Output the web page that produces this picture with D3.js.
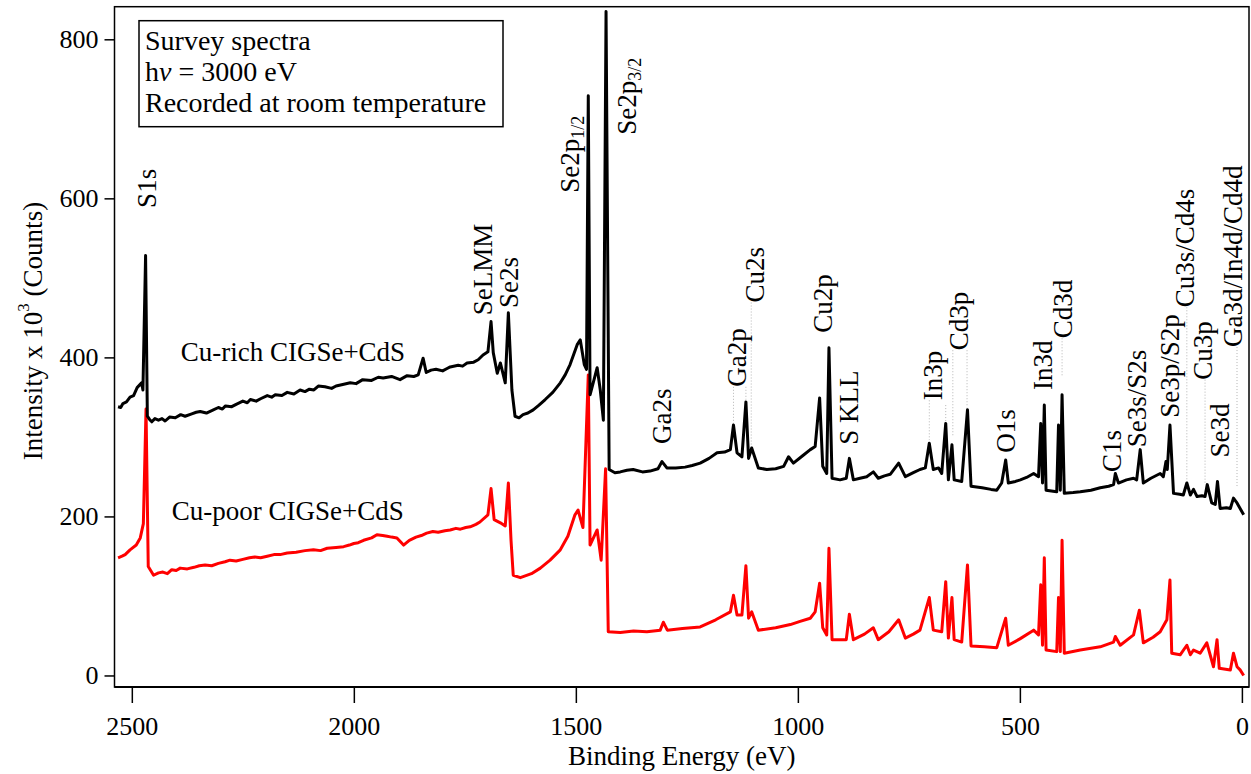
<!DOCTYPE html>
<html>
<head>
<meta charset="utf-8">
<script src="https://cdnjs.cloudflare.com/ajax/libs/d3/7.8.5/d3.min.js"></script>
<style>
body { margin: 0; background: #fff; }
</style>
</head>
<body>
<div id="chart"></div>
<script>

// binding energy (eV), intensity (x1000 counts)
let cuRichSpectrum = [
  [2531,338],[2525,337],[2520,342],[2512,344],[2504,350],[2496,352],[2488,362],[2478,368],[2475,359],[2469,528],[2465,326],[2460,322],[2455,319],
  [2448,323],[2440,321],[2432,323],[2425,320],[2415,325],[2402,324],[2390,328],[2380,326],[2365,329],[2355,331],[2346,332],[2332,330],[2320,333],[2305,337],[2296,335],[2289,339],[2275,338],[2265,341],
  [2250,345],[2240,343],[2233,347],[2220,345],[2210,348],[2195,352],[2185,350],[2177,353],[2162,352],[2150,356],[2135,354],[2121,359],[2110,357],[2100,360],[2090,359],[2080,364],[2065,363],
  [2050,361],[2040,364],[2025,366],[2008,368],[1995,367],[1980,372],[1960,371],[1945,375],[1934,374],[1915,376],[1896,372],[1880,377],[1865,376],[1855,378],[1844,399],
  [1837,381],[1826,384],[1815,385],[1800,383],[1790,386],[1783,388],[1765,390],[1755,389],[1745,393],[1730,394],[1720,397],
  [1709,403],[1698,407],[1691,445],[1686,406],[1677,380],[1670,393],[1659,368],[1652,456],
  [1644,359],[1637,326],[1628,324],[1619,328],[1608,330],[1596,334],[1583,340],[1569,347],[1552,356],[1535,368],[1524,378],[1513,391],[1497,416],
  [1490,422],[1481,391],[1476,385],[1472,729],[1468,353],[1459,372],[1452,387],[1445,359],
  [1438,321],[1432,835],[1425,259],[1412,255],[1400,256],[1385,258],[1371,259],[1350,256],[1333,257],[1315,260],[1306,269],[1295,261],
  [1275,261],[1254,262],[1238,264],[1220,267],[1200,273],[1182,280],[1165,281],[1152,284],[1145,315],[1137,280],[1126,275],[1117,344],
  [1111,273],[1104,286],[1089,261],[1070,259],[1050,260],[1032,263],[1021,275],[1010,267],[990,276],[972,284],
  [961,288],[951,349],[944,263],[935,254],[930,412],[923,248],[905,246],[891,248],
  [884,273],[875,246],[860,248],[845,250],[830,256],[819,248],[805,251],[792,253],[773,267],[758,250],
  [740,255],[725,259],[713,261],[704,292],[695,259],[683,261],[676,254],[667,317],[661,246],
  [653,290],[648,246],[631,244],[618,334],[610,238],[585,236],[565,234],[552,233],[541,242],[532,271],
  [526,242],[510,244],[499,246],[485,249],[469,254],[458,250],[453,317],[449,242],[445,340],[441,233],
  [417,231],[413,315],[409,233],[405,353],[400,229],[380,230],[364,231],[340,233],[319,236],[300,238],[289,240],
  [285,254],[278,242],[260,246],[244,248],[237,246],[229,284],[222,242],[205,248],[184,254],[177,250],
  [171,269],[168,259],[162,315],[154,229],[140,228],[132,227],[124,242],[116,227],[109,234],
  [101,225],[90,226],[83,225],[78,240],[68,217],[60,215],[55,244],[49,210],[35,211],[26,210],
  [19,223],[11,217],[4,210],[-4,202]
]

let cuPoorSpectrum = [
  [2531,148],[2522,150],[2515,152],[2504,158],[2490,164],[2481,173],[2474,191],[2468,335],[2463,137],[2451,126],[2440,129],[2430,130],[2420,128],[2410,133],[2400,132],[2391,135],
  [2375,134],[2360,136],[2348,138],[2335,139],[2320,138],[2305,141],[2290,143],[2279,145],[2265,144],[2250,146],[2235,148],[2223,149],[2210,148],[2195,150],[2180,152],[2166,152],[2150,154],[2130,155],[2110,157],[2091,158],[2075,157],[2060,160],[2040,161],[2023,162],[2010,164],[2000,166],[1990,167],[1978,170],[1960,173],[1948,177],
  [1935,176],[1925,175],[1915,174],[1903,173],[1888,164],[1875,170],[1860,174],[1848,176],[1836,179],[1822,181],[1810,180],[1795,182],[1783,183],[1770,185],[1760,184],[1748,186],[1738,187],[1725,190],[1716,193],[1698,202],[1691,235],
  [1684,196],[1670,192],[1659,188],[1652,242],[1646,170],[1641,126],[1625,123],[1600,128],[1580,135],[1558,145],[1535,158],[1518,175],
  [1502,202],[1495,208],[1484,186],[1472,378],[1468,164],[1452,183],[1443,145],[1433,260],
  [1427,55],[1400,54],[1370,56],[1340,55],[1310,57],[1303,67],[1294,57],[1260,59],[1220,61],[1185,70],[1152,80],[1145,101],
  [1137,76],[1126,76],[1117,138],[1111,72],[1104,80],[1089,57],[1050,60],[1017,64],[995,68],[972,72],
  [961,80],[951,116],[944,60],[935,51],[930,160],[923,45],[891,45],[884,77],
  [875,45],[850,52],[830,60],[819,45],[795,55],[773,70],[758,47],[740,52],[725,57],[704,98],[695,57],
  [676,55],[667,118],[661,47],[653,98],[648,45],[631,42],[618,139],[610,37],
  [580,36],[552,35],[532,72],[526,38],[500,46],[469,57],[458,51],[453,114],[449,38],[445,148],
  [441,32],[417,30],[413,98],[409,30],[405,170],[400,28],[364,32],[319,36],
  [289,42],[285,49],[274,38],[244,51],[231,82],[222,41],[200,48],[184,55],[169,70],
  [162,120],[158,28],[139,26],[124,38],[116,26],[109,32],[94,28],[79,41],
  [64,11],[56,45],[51,9],[26,7],[19,28],[11,11],[4,7],[-4,0]
]

// peak labels: name (part after _ is subscript), energy, level where the label starts
let peakNames = ["S1s","SeLMM","Se2s","Se2p_1/2","Se2p_3/2","Ga2s","Ga2p","Cu2s","Cu2p","S KLL",
  "In3p","Cd3p","O1s","In3d","Cd3d","C1s","Se3s/S2s","Se3p/S2p","Cu3s/Cd4s","Cu3p","Se3d","Ga3d/In4d/Cd4d"]
let peakEnergy = [2466,1709,1650,1513,1385,1306,1137,1096,944,884,695,637,531,447,403,293,236,161,128,88,49,20]
let peakLevel = [588,453,462,607,680,291,363,469,431,290,346,409,280,359,424,256,287,324,463,372,274,413]

// dotted guide lines from labels to peaks: energy, top, bottom
let guideEnergy = [1145,1117,1105,704,667,651,619,405,124,83,11]
let guideTop = [363,363,469,346,340,409,409,424,463,372,413]
let guideBottom = [317,347,287,296,317,300,337,376,246,242,237]

let seriesNames = ["Cu-rich CIGSe+CdS","Cu-poor CIGSe+CdS"]
let seriesLabelAt = [[2390,395],[2410,195]]   // energy, intensity of label baseline start
let infoLines = ["Survey spectra","h|ν| = 3000 eV","Recorded at room temperature"]

let xTicks = [2500,2000,1500,1000,500,0]
let yTicks = [0,200,400,600,800]

const FONT = "Liberation Serif";

// put the font straight on each text node
function serifText(sel, size){
    return sel.attr("font-family", FONT)
        .style("font-family", FONT)
        .attr("font-size", size)
        .style("font-size", size + "px");
}

function renderSpectra(){

let svgWidth = 1251, svgHeight = 774;
let margin = {top: 6.7, right: 2, bottom: 87, left: 114.5};
let plotW = svgWidth - margin.left - margin.right,
    plotH = svgHeight - margin.top - margin.bottom;

let x = d3.scaleLinear().domain([2539, -16]).range([0, plotW]);
let y = d3.scaleLinear().domain([-14.5, 841]).range([plotH, 0]);

let svg = d3.select("#chart").append("svg")
    .attr("width", svgWidth)
    .attr("height", svgHeight);

let g = svg.append("g")
    .attr("transform", "translate(" + margin.left + "," + margin.top + ")");

// dotted guides under everything
g.selectAll(".guide")
    .data(guideEnergy)
    .enter()
    .append("line")
    .attr("class", "guide")
    .attr("x1", function(d){ return x(d); })
    .attr("x2", function(d){ return x(d); })
    .attr("y1", function(d,i){ return y(guideTop[i]); })
    .attr("y2", function(d,i){ return y(guideBottom[i]); })
    .attr("stroke", "#b4b4b4")
    .attr("stroke-width", 1)
    .attr("stroke-dasharray", "1,2");

let line = d3.line()
    .x(function(d){ return x(d[0]); })
    .y(function(d){ return y(d[1]); });

g.append("path")
    .datum(cuPoorSpectrum)
    .attr("d", line)
    .attr("fill", "none")
    .attr("stroke", "#ff0000")
    .attr("stroke-width", 3)
    .attr("stroke-linejoin", "round");

g.append("path")
    .datum(cuRichSpectrum)
    .attr("d", line)
    .attr("fill", "none")
    .attr("stroke", "#000")
    .attr("stroke-width", 3)
    .attr("stroke-linejoin", "round");

// frame
g.append("rect")
    .attr("x", 0).attr("y", 0)
    .attr("width", plotW).attr("height", plotH)
    .attr("fill", "none")
    .attr("stroke", "#000")
    .attr("stroke-width", 1.5);
g.append("line")
    .attr("x1", 0).attr("x2", plotW)
    .attr("y1", plotH).attr("y2", plotH)
    .attr("stroke", "#000")
    .attr("stroke-width", 2.2);

// axes
let xAxis = d3.axisBottom(x).tickValues(xTicks).tickFormat(d3.format("d")).tickSize(15).tickPadding(14);
let xg = g.append("g")
    .attr("transform", "translate(0," + (plotH + 1) + ")")
    .call(xAxis)
    .attr("font-family", FONT);
xg.select(".domain").remove();
xg.selectAll("line").attr("stroke-width", 1.5);
serifText(xg.selectAll("text"), 26);

let yAxis = d3.axisLeft(y).tickValues(yTicks).tickFormat(d3.format("d")).tickSize(10).tickPadding(6);
let yg = g.append("g").call(yAxis)
    .attr("font-family", FONT);
yg.select(".domain").remove();
yg.selectAll("line").attr("stroke-width", 1.5);
serifText(yg.selectAll("text"), 26);

serifText(svg.append("text"), 27)
    .attr("x", margin.left + plotW/2)
    .attr("y", 765)
    .attr("text-anchor", "middle")
    .text("Binding Energy (eV)");

let yTitle = serifText(svg.append("text"), 27)
    .attr("transform", "translate(42," + 331 + ") rotate(-90)")
    .attr("text-anchor", "middle");
yTitle.append("tspan").text("Intensity x 10");
serifText(yTitle.append("tspan"), 17).attr("dy", "-0.75em").text("3");
yTitle.append("tspan").attr("dy", "0.48em").text(" (Counts)");

// info box
let box = g.append("g").attr("transform", "translate(" + (139 - margin.left) + "," + (20.7 - margin.top) + ")");
box.append("rect")
    .attr("width", 364).attr("height", 106)
    .attr("fill", "#fff")
    .attr("stroke", "#000")
    .attr("stroke-width", 1.5);
infoLines.forEach(function(s, i){
    let t = serifText(box.append("text"), 28)
        .attr("x", 6)
        .attr("y", 29.5 + i*31);
    s.split("|").forEach(function(part, k){
        let ts = t.append("tspan").text(part);
        if(k == 1) ts.attr("font-style", "italic").style("font-style", "italic");
    });
});

// series names
let names = g.selectAll(".seriesName")
    .data(seriesNames)
    .enter()
    .append("text")
    .attr("class", "seriesName")
    .attr("x", function(d,i){ return x(seriesLabelAt[i][0]); })
    .attr("y", function(d,i){ return y(seriesLabelAt[i][1]); })
    .text(function(d){ return d; });
serifText(names, 27);

// rotated peak labels
let labels = g.selectAll(".peak")
    .data(peakNames)
    .enter()
    .append("text")
    .attr("class", "peak")
    .attr("transform", function(d,i){
        return "translate(" + x(peakEnergy[i]) + "," + y(peakLevel[i]) + ") rotate(-90)";
    })
    .attr("dy", "0.33em");
serifText(labels, 27);

labels.each(function(d){
    let parts = d.split("_");
    let t = d3.select(this);
    t.append("tspan").text(parts[0]);
    if(parts.length > 1){
        serifText(t.append("tspan"), 18).attr("dy", "0.3em").text(parts[1]);
    }
});

}

renderSpectra();
</script>
</body>
</html>
